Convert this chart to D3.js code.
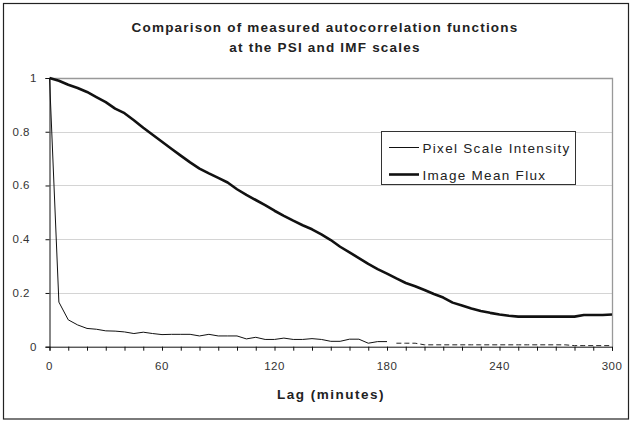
<!DOCTYPE html>
<html><head><meta charset="utf-8">
<script src="https://cdn.jsdelivr.net/npm/d3@7/dist/d3.min.js"></script>
<style>
html,body{margin:0;padding:0;background:#fff;}
text{font-family:Arial,"Liberation Sans",sans-serif;}
</style></head>
<body><svg id="c" width="632" height="421"></svg>
<script>
const titleLines = ["Comparison of measured autocorrelation functions", "at the PSI and IMF scales"];
const xTitle = "Lag (minutes)";
const xTicks = [0, 60, 120, 180, 240, 300];
const yTicks = [0, 0.2, 0.4, 0.6, 0.8, 1];
const seriesNames = ["Pixel Scale Intensity", "Image Mean Flux"];

const psiLag = [0,5,10,15,20,25,30,35,40,45,50,55,60,65,70,75,80,85,90,95,100,105,110,115,120,125,130,135,140,145,150,155,160,165,170,175,180];
const psiVal = [1.0,0.166,0.100,0.081,0.068,0.065,0.059,0.058,0.055,0.049,0.054,0.049,0.045,0.046,0.046,0.046,0.040,0.046,0.040,0.040,0.040,0.029,0.035,0.027,0.027,0.032,0.027,0.027,0.030,0.027,0.020,0.020,0.028,0.028,0.013,0.019,0.019];

const tailLag = [185,190,195,200,205,210,215,220,225,230,235,240,245,250,255,260,265,270,275,280,285,290,295,300];
const tailVal = [0.013,0.013,0.013,0.007,0.007,0.007,0.007,0.007,0.007,0.007,0.007,0.007,0.007,0.007,0.007,0.007,0.007,0.007,0.007,0.004,0.004,0.004,0.004,0.004];

const imfLag = [0,5,10,15,20,25,30,35,40,45,50,55,60,65,70,75,80,85,90,95,100,105,110,115,120,125,130,135,140,145,150,155,160,165,170,175,180,185,190,195,200,205,210,215,220,225,230,235,240,245,250,255,260,265,270,275,280,285,290,295,300];
const imfVal = [1.000,0.990,0.975,0.963,0.948,0.929,0.910,0.886,0.869,0.843,0.815,0.789,0.763,0.737,0.711,0.686,0.663,0.645,0.628,0.611,0.586,0.565,0.546,0.527,0.506,0.487,0.469,0.452,0.437,0.418,0.397,0.372,0.351,0.330,0.308,0.289,0.272,0.254,0.237,0.225,0.211,0.196,0.183,0.164,0.153,0.142,0.133,0.126,0.120,0.115,0.112,0.112,0.112,0.112,0.112,0.112,0.112,0.118,0.118,0.118,0.120];

const svg = d3.select("#c");
const pL = 49.5, pR = 612, pT = 78, pB = 346.7;
const x = d3.scaleLinear().domain([0, 300]).range([pL, pR]);
const y = d3.scaleLinear().domain([0, 1]).range([pB, pT]);

// outer border
svg.append("rect").attr("x", 3.5).attr("y", 3.5).attr("width", 625).attr("height", 415.5)
  .attr("fill", "#fff").attr("stroke", "#222").attr("stroke-width", 1.2);

// title
svg.append("g").selectAll("text").data(titleLines).join("text")
  .attr("x", 325).attr("y", (d, i) => 32 + i * 20)
  .attr("text-anchor", "middle").attr("font-size", 13.5).attr("font-weight", "bold")
  .attr("letter-spacing", "1.2px").attr("fill", "#222").text(d => d);

// gridlines
svg.append("g").selectAll("line").data(yTicks.filter(v => v > 0 && v < 1)).join("line")
  .attr("x1", pL).attr("x2", pR).attr("y1", d => Math.round(y(d)) + 0.5).attr("y2", d => Math.round(y(d)) + 0.5)
  .attr("stroke", "#d4d4d4").attr("stroke-width", 1.2);
// plot area top & right border
svg.append("path").attr("d", `M${pL},${Math.round(pT)+0.5}H${Math.round(pR)+0.5}V${pB}`)
  .attr("fill", "none").attr("stroke", "#999").attr("stroke-width", 1.3);

// axes
const xMinor = d3.range(0, 301, 10);
const xAxis = d3.axisBottom(x).tickValues(xMinor).tickSize(4).tickFormat("");
const gx = svg.append("g").attr("transform", `translate(0,${pB})`).call(xAxis);
gx.select(".domain").attr("stroke", "#111");
gx.selectAll(".tick line").attr("stroke", "#111");
svg.append("g").selectAll("text").data(xTicks).join("text")
  .attr("x", d => x(d)).attr("y", 370).attr("text-anchor", "middle")
  .attr("font-size", 11.5).attr("letter-spacing", "0.5px").attr("fill", "#333").text(d => d);

const yAxis = d3.axisLeft(y).tickValues(yTicks).tickSize(4).tickFormat("");
const gy = svg.append("g").attr("transform", `translate(${pL},0)`).call(yAxis);
gy.select(".domain").attr("stroke", "#111");
gy.selectAll(".tick line").attr("stroke", "#111");
svg.append("g").selectAll("text").data(yTicks).join("text")
  .attr("x", d => (d === 0 || d === 1) ? 37 : 30).attr("y", d => y(d) + 4)
  .attr("text-anchor", "end").attr("font-size", 11.5).attr("letter-spacing", "0.5px")
  .attr("fill", "#333").text(d => d);

// x title
svg.append("text").attr("x", 331).attr("y", 399).attr("text-anchor", "middle")
  .attr("font-size", 13.5).attr("font-weight", "bold").attr("letter-spacing", "1.5px")
  .attr("fill", "#222").text(xTitle);

// lines
const line = d3.line().x(d => x(d[0])).y(d => y(d[1]));
svg.append("path").datum(psiLag.map((l, i) => [l, psiVal[i]])).attr("d", line)
  .attr("fill", "none").attr("stroke", "#111").attr("stroke-width", 1);
svg.append("path").datum(tailLag.map((l, i) => [l, tailVal[i]])).attr("d", line)
  .attr("fill", "none").attr("stroke", "#222").attr("stroke-width", 1).attr("stroke-dasharray", "5,3");
svg.append("path").datum(imfLag.map((l, i) => [l, imfVal[i]])).attr("d", line)
  .attr("fill", "none").attr("stroke", "#111").attr("stroke-width", 2.6).attr("stroke-linejoin", "round");

// legend
const lg = svg.append("g");
lg.append("rect").attr("x", 381.5).attr("y", 131.5).attr("width", 194).attr("height", 53)
  .attr("fill", "#fff").attr("stroke", "#333").attr("stroke-width", 1);
seriesNames.forEach((n, i) => {
  const yy = 147.5 + i * 27;
  lg.append("line").attr("x1", 389).attr("x2", 419).attr("y1", yy).attr("y2", yy)
    .attr("stroke", "#111").attr("stroke-width", i === 0 ? 1 : 2.6);
  lg.append("text").attr("x", 422.5).attr("y", yy + 5).attr("font-size", 13.5)
    .attr("letter-spacing", "1.3px").attr("fill", "#222").text(n);
});
</script></body></html>
